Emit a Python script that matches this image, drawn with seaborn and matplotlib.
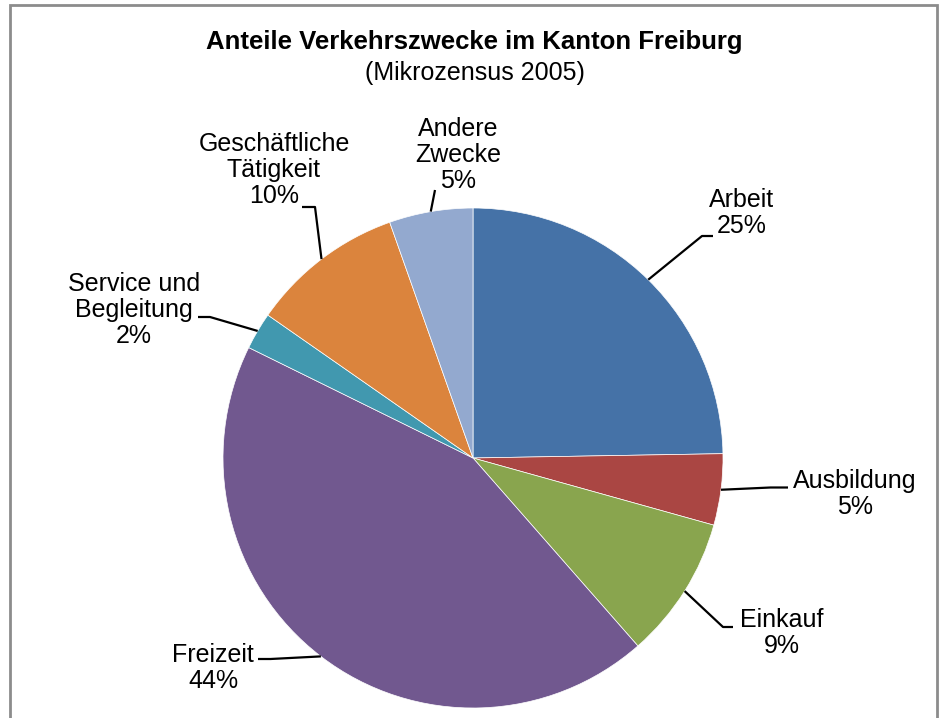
import matplotlib
matplotlib.use("Agg")
import matplotlib.pyplot as plt
import numpy as np
import seaborn as sns
from matplotlib.patches import Rectangle

# data (clockwise from 12 o'clock)
categories = ["Arbeit", "Ausbildung", "Einkauf", "Freizeit",
              "Service und\nBegleitung", "Geschäftliche\nTätigkeit", "Andere\nZwecke"]
shares = [24.7, 4.6, 9.2, 43.7, 2.4, 9.9, 5.4]
pct_labels = ["25%", "5%", "9%", "44%", "2%", "10%", "5%"]
colors = sns.color_palette(["#4572A7", "#AA4643", "#89A54E", "#71588F",
                            "#4198AF", "#DB843D", "#93A9CF"])

# label layout: elbow of leader, end of horizontal stub, text centre
elbows = [(0.916, 0.888), (1.19, -0.118), (1.0, -0.676), (-0.81, -0.804),
          (-1.052, 0.564), (-0.632, 1.004), (-0.152, 1.072)]
stubs = [(0.96, 0.888), (1.26, -0.118), (1.04, -0.676), (-0.86, -0.804),
         (-1.10, 0.564), (-0.684, 1.004), (-0.152, 1.072)]
text_pos = [(1.076, 0.98), (1.528, -0.144), (1.236, -0.70), (-1.04, -0.84),
            (-1.356, 0.592), (-0.796, 1.152), (-0.06, 1.212)]

sns.set_style("white")
plt.rcParams["font.family"] = ["Liberation Sans", "DejaVu Sans"]
plt.rcParams["text.color"] = "black"

W, H = 939, 718
R = 250.0  # radius in px
cx, cy = 473, 458
fig = plt.figure(figsize=(W / 100, H / 100), dpi=100)
ax = fig.add_axes([0, 0, 1, 1])

wedges, _ = ax.pie(shares, colors=colors, startangle=90, counterclock=False,
                   radius=1.0, center=(0, 0),
                   wedgeprops=dict(edgecolor="white", linewidth=0.5))
ax.set_xlim(-cx / R, (W - cx) / R)
ax.set_ylim(-(H - cy) / R, cy / R)
ax.axis("off")

for w, cat, pct, el, st, tp in zip(wedges, categories, pct_labels, elbows, stubs, text_pos):
    mid = np.deg2rad((w.theta1 + w.theta2) / 2)
    p0 = (np.cos(mid), np.sin(mid))
    ax.plot([p0[0], el[0], st[0]], [p0[1], el[1], st[1]], color="black", lw=1.6,
            solid_capstyle="butt", clip_on=False)
    ax.text(tp[0], tp[1], f"{cat}\n{pct}", ha="center", va="center",
            multialignment="center", fontsize=18, linespacing=1.1, color="black")

ax.text(0.006, 1.664, "Anteile Verkehrszwecke im Kanton Freiburg", ha="center", va="center",
        fontsize=18.5, fontweight="bold", color="black")
ax.text(0.006, 1.54, "(Mikrozensus 2005)", ha="center", va="center", fontsize=18,
        color="black")

fig.patches.append(Rectangle((10 / W, -0.05), (937 - 10) / W, 1.05 - 5 / H,
                             transform=fig.transFigure, fill=False,
                             edgecolor="#8c8c8c", linewidth=2))

fig.savefig("out.png", dpi=100, facecolor="white")
